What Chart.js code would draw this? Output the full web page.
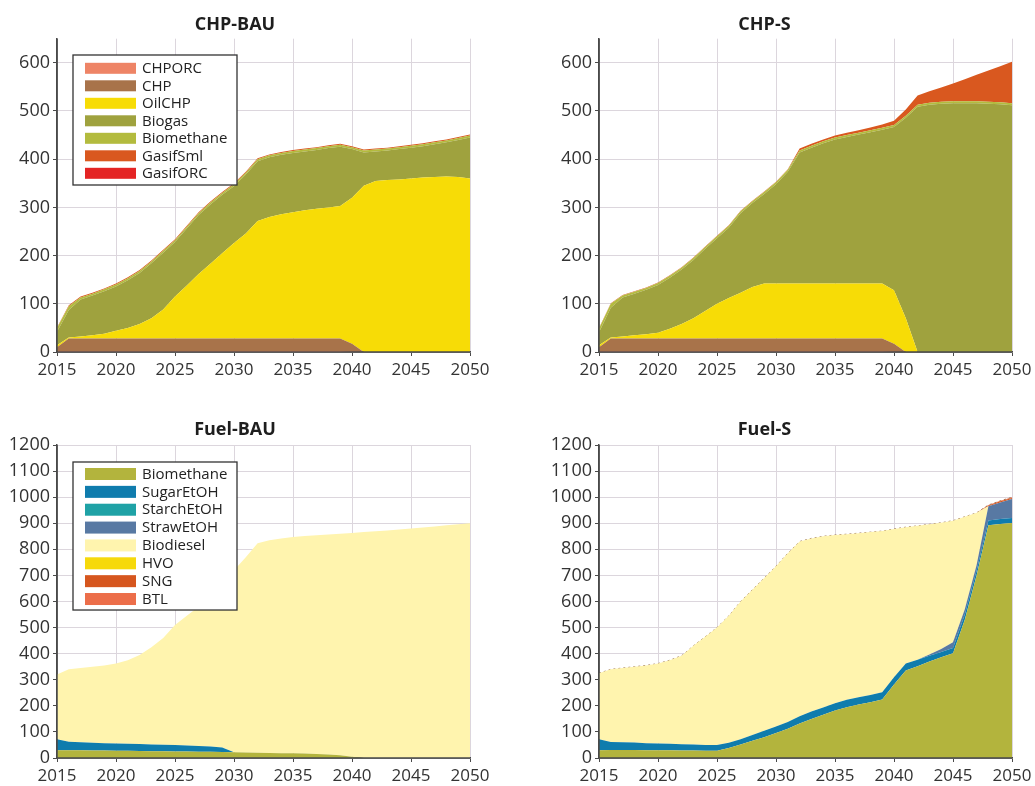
<!DOCTYPE html>
<html>
<head>
<meta charset="utf-8">
<script src="https://cdn.jsdelivr.net/npm/chart.js@4/dist/chart.umd.min.js"></script>
<style>
  html, body { margin: 0; padding: 0; background: #fff; }
  #wrap { position: relative; width: 1035px; height: 786px; overflow: hidden; }
  canvas { position: absolute; display: block; }
</style>
</head>
<body>
<div id="wrap">
  <canvas id="chpBau" width="517" height="390" style="left:0;top:0;width:517px;height:390px"></canvas>
  <canvas id="chpS" width="518" height="390" style="left:517px;top:0;width:518px;height:390px"></canvas>
  <canvas id="fuelBau" width="517" height="396" style="left:0;top:390px;width:517px;height:396px"></canvas>
  <canvas id="fuelS" width="518" height="396" style="left:517px;top:390px;width:518px;height:396px"></canvas>
</div>
<script>
// ---- categories and tick labels ----
const years = [2015, 2016, 2017, 2018, 2019, 2020, 2021, 2022, 2023, 2024,
               2025, 2026, 2027, 2028, 2029, 2030, 2031, 2032, 2033, 2034,
               2035, 2036, 2037, 2038, 2039, 2040, 2041, 2042, 2043, 2044,
               2045, 2046, 2047, 2048, 2049, 2050];
const yearTicks = [2015, 2020, 2025, 2030, 2035, 2040, 2045, 2050];
const chpTicks = [0, 100, 200, 300, 400, 500, 600];
const fuelTicks = [0, 100, 200, 300, 400, 500, 600, 700, 800, 900, 1000, 1100, 1200];

// ---- CHP technologies ----
const chpNames = ['CHPORC', 'CHP', 'OilCHP', 'Biogas', 'Biomethane', 'GasifSml', 'GasifORC'];
const chpColors = ['#ee8466', '#a8734a', '#f7dc06', '#9fa23e', '#b3bb3e', '#d9581f', '#e42424'];

// CHP-BAU
const bauCHPORC     = [2,2,2,2,2, 2,2,2,2,2, 2,2,2,2,2, 2,2,2,2,2, 2,2,2,2,2, 1,0,0,0,0, 0,0,0,0,0, 0];
const bauCHP        = [8,26,26,26,26, 26,26,26,26,26, 26,26,26,26,26, 26,26,26,26,26, 26,26,26,26,26, 16,0,0,0,0, 0,0,0,0,0, 0];
const bauOilCHP     = [4,2,4,7,10, 16,22,30,42,60, 87,110,134,155,177, 198,218,244,252,258, 262,266,269,272,275, 303,345,355,357,358, 360,362,363,364,363, 360];
const bauBiogas     = [28,57,77,82,88, 92,99,106,114,118, 113,118,122,123,121, 118,122,124,124,123, 123,122,122,123,123, 101,69,61,61,63, 64,65,68,71,77, 85];
const bauBiomethane = [8,8,4,4,4, 4,4,4,4,4, 4,4,4,4,4, 4,4,4,4,4, 4,4,4,4,4, 4,4,4,4,4, 4,4,4,4,4, 4];
const bauGasifSml   = [1,2,2,2,2, 2,2,2,2,2, 2,2,2,2,2, 2,2,2,2,2, 2,2,2,2,2, 2,2,2,2,2, 2,2,2,2,2, 2];
const bauGasifORC   = [0,0,0,0,0, 0,0,0,0,0, 0,0,0,0,0, 0,0,0,0,0, 0,0,0,0,0, 0,0,0,0,0, 0,0,0,0,0, 0];

// CHP-S
const sCHPORC     = [2,2,2,2,2, 2,2,2,2,2, 2,2,2,2,2, 2,2,2,2,2, 2,2,2,2,2, 1,0,0,0,0, 0,0,0,0,0, 0];
const sCHP        = [8,26,26,26,26, 26,26,26,26,26, 26,26,26,26,26, 26,26,26,26,26, 26,26,26,26,26, 16,0,0,0,0, 0,0,0,0,0, 0];
const sOilCHP     = [4,2,4,7,9, 12,20,30,42,57, 72,84,95,107,114, 114,114,114,114,114, 114,114,114,114,114, 111,70,0,0,0, 0,0,0,0,0, 0];
const sBiogas     = [27,62,81,86,92, 99,106,113,121,129, 136,146,165,174,186, 206,232,272,282,291, 299,304,309,314,319, 339,416,509,513,515, 516,516,516,515,514, 512];
const sBiomethane = [8,8,4,4,4, 4,4,4,4,4, 4,4,4,4,4, 4,4,4,4,4, 4,4,4,4,4, 4,4,4,4,4, 4,4,4,4,4, 4];
const sGasifSml   = [1,1,1,1,1, 1,1,1,1,1, 1,1,1,1,1, 1,1,4,4,4, 4,5,5,6,7, 9,13,19,24,30, 37,46,55,65,75, 86];
const sGasifORC   = [0,0,0,0,0, 0,0,0,0,0, 0,0,0,0,0, 0,0,0,0,0, 0,0,0,0,0, 0,0,0,0,0, 0,0,0,0,0, 0];

// ---- transport fuels ----
const fuelNames = ['Biomethane', 'SugarEtOH', 'StarchEtOH', 'StrawEtOH', 'Biodiesel', 'HVO', 'SNG', 'BTL'];
const fuelColors = ['#b3b43d', '#0f7cad', '#1fa2a6', '#5879a3', '#fff4ae', '#f6d90b', '#d6561e', '#ec6e4a'];

// Fuel-BAU
const fbBiomethane = [30,30,30,29,29, 28,28,27,26,26, 25,25,24,24,23, 22,21,20,19,18, 18,17,15,13,11, 5,0,0,0,0, 0,0,0,0,0, 0];
const fbSugar      = [42,32,30,29,28, 28,27,27,26,25, 25,23,22,20,17, 0,0,0,0,0, 0,0,0,0,0, 0,0,0,0,0, 0,0,0,0,0, 0];
const fbStarch     = [0,0,0,0,0, 0,0,0,0,0, 0,0,0,0,0, 0,0,0,0,0, 0,0,0,0,0, 0,0,0,0,0, 0,0,0,0,0, 0];
const fbStraw      = [0,0,0,0,0, 0,0,0,0,0, 0,0,0,0,0, 0,0,0,0,0, 0,0,0,0,0, 0,0,0,0,0, 0,0,0,0,0, 0];
const fbBiodiesel  = [248,278,285,292,298, 306,320,341,373,409, 460,497,534,574,620, 698,749,803,816,824, 829,834,839,844,849, 858,866,869,872,876, 880,884,888,892,896, 900];
const fbHVO        = [0,0,0,0,0, 0,0,0,0,0, 0,0,0,0,0, 0,0,0,0,0, 0,0,0,0,0, 0,0,0,0,0, 0,0,0,0,0, 0];
const fbSNG        = [0,0,0,0,0, 0,0,0,0,0, 0,0,0,0,0, 0,0,0,0,0, 0,0,0,0,0, 0,0,0,0,0, 0,0,0,0,0, 0];
const fbBTL        = [0,0,0,0,0, 0,0,0,0,0, 0,0,0,0,0, 0,0,0,0,0, 0,0,0,0,0, 0,0,0,0,0, 0,0,0,0,0, 0];

// Fuel-S
const fsBiomethane = [30,31,31,31,30, 30,30,29,29,28, 28,38,52,66,80, 96,112,132,150,166, 182,195,205,214,224, 282,335,352,370,386, 402,530,700,892,897, 901];
const fsSugar      = [42,30,29,28,27, 26,25,24,23,22, 22,20,20,22,24, 25,26,28,28,28, 28,28,28,28,28, 28,27,25,22,20, 20,20,18,19,19, 19];
const fsStarch     = [0,0,0,0,0, 0,0,0,0,0, 0,0,0,0,0, 0,0,0,0,0, 0,0,0,0,0, 0,0,0,0,0, 0,0,0,0,0, 0];
const fsStraw      = [0,0,0,0,0, 0,0,0,0,0, 0,0,0,0,0, 0,0,0,0,0, 0,0,0,0,0, 0,0,0,5,12, 22,20,22,54,64, 73];
const fsBiodiesel  = [253,279,285,291,298, 306,320,339,378,415, 450,487,528,557,586, 614,647,670,664,656, 645,635,629,624,618, 568,523,513,499,484, 466,355,200,0,0, 0];
const fsHVO        = [0,0,0,0,0, 0,0,0,0,0, 0,0,0,0,0, 0,0,0,0,0, 0,0,0,0,0, 0,0,0,0,0, 0,0,0,0,0, 0];
const fsSNG        = [0,0,0,0,0, 0,0,0,0,0, 0,0,0,0,0, 0,0,0,0,0, 0,0,0,0,0, 0,0,0,0,0, 0,0,0,3,4, 4];
const fsBTL        = [0,0,0,0,0, 0,0,0,0,0, 0,0,0,0,0, 0,0,0,0,0, 0,0,0,0,0, 0,0,0,0,0, 0,0,0,2,2, 3];

// ---- drawing ----
Chart.defaults.font.family = "'Open Sans', 'Noto Sans', sans-serif";
Chart.defaults.color = '#333';
Chart.defaults.animation = false;

const GRID = '#dcd6dd';
const AXIS = '#4a4a4a';

// Boxed legend inside the plot area, plus the left/bottom axis lines drawn over the fills
const boxLegend = {
  id: 'boxLegend',
  afterDatasetsDraw(chart, args, o) {
    const ctx = chart.ctx, a = chart.chartArea;
    ctx.save();
    ctx.strokeStyle = AXIS;
    ctx.lineWidth = 1.5;
    ctx.beginPath();
    ctx.moveTo(a.left, a.top);
    ctx.lineTo(a.left, a.bottom);
    ctx.lineTo(a.right, a.bottom);
    ctx.stroke();
    if (o && o.show) {
      const ds = chart.data.datasets;
      const x0 = a.left + o.dx, y0 = a.top + o.dy;
      const h = o.padTop + (ds.length - 1) * o.row + o.padBottom;
      ctx.fillStyle = '#fff';
      ctx.fillRect(x0, y0, o.w, h);
      ctx.strokeStyle = '#333';
      ctx.lineWidth = 1.3;
      ctx.strokeRect(x0, y0, o.w, h);
      ctx.font = "15px 'Open Sans', 'Noto Sans', sans-serif";
      ctx.textBaseline = 'middle';
      ctx.textAlign = 'left';
      ds.forEach((d, i) => {
        const cy = y0 + o.padTop + i * o.row;
        ctx.fillStyle = d.backgroundColor;
        ctx.fillRect(x0 + 12, cy - o.sw / 2, 51, o.sw);
        ctx.fillStyle = '#222';
        ctx.fillText(d.label, x0 + 69, cy + 0.5);
      });
    }
    ctx.restore();
  }
};

function buildDatasets(series, names, colors, extras) {
  return series.map((vals, i) => Object.assign({
    label: names[i],
    data: vals.map((v, j) => ({ x: years[j], y: v })),
    backgroundColor: colors[i],
    borderColor: colors[i],
    borderWidth: 0,
    pointRadius: 0,
    pointHoverRadius: 0,
    tension: 0,
    fill: i === 0 ? 'origin' : '-1'
  }, (extras && extras[i]) || {}));
}

function makeChart(id, title, datasets, ymax, yTicks, g) {
  return new Chart(document.getElementById(id), {
    type: 'line',
    data: { datasets },
    options: {
      responsive: false,
      animation: false,
      layout: { padding: { left: 0, right: g.padRight, top: 0, bottom: 0 } },
      plugins: {
        legend: { display: false },
        tooltip: { enabled: false },
        title: {
          display: true,
          text: title,
          color: '#1e1e1e',
          font: { size: 18, weight: 'bold' },
          padding: { top: g.titleTop, bottom: g.titleBottom }
        },
        boxLegend: g.legend
      },
      scales: {
        x: {
          type: 'linear',
          min: 2015,
          max: 2050,
          afterBuildTicks: s => { s.ticks = yearTicks.map(v => ({ value: v })); },
          afterFit: s => { s.height = g.xh; s.paddingLeft = 0; s.paddingRight = 0; },
          ticks: { font: { size: 17 }, color: '#333', padding: 4, maxRotation: 0, callback: v => String(v) },
          grid: { color: GRID, lineWidth: 1, tickColor: AXIS, tickLength: 4 },
          border: { color: AXIS, width: 1.5 }
        },
        y: {
          type: 'linear',
          stacked: true,
          min: 0,
          max: ymax,
          afterBuildTicks: s => { s.ticks = yTicks.map(v => ({ value: v })); },
          afterFit: s => { s.width = g.yw; s.paddingTop = 0; s.paddingBottom = 0; },
          ticks: { font: { size: 18 }, color: '#333', padding: 3, callback: v => String(v) },
          grid: { color: GRID, lineWidth: 1, tickColor: AXIS, tickLength: 4 },
          border: { color: AXIS, width: 1.5 }
        }
      }
    },
    plugins: [boxLegend]
  });
}

const topLeft  = { padRight: 47, yw: 57, xh: 38, titleTop: 14.2, titleBottom: 2.9 };
const topRight = { padRight: 23, yw: 82, xh: 38, titleTop: 14.2, titleBottom: 2.9 };
const botLeft  = { padRight: 47, yw: 57, xh: 28, titleTop: 29.2, titleBottom: 4.2 };
const botRight = { padRight: 23, yw: 82, xh: 28, titleTop: 29.2, titleBottom: 4.2 };

makeChart('chpBau', 'CHP-BAU',
  buildDatasets([bauCHPORC, bauCHP, bauOilCHP, bauBiogas, bauBiomethane, bauGasifSml, bauGasifORC], chpNames, chpColors),
  650, chpTicks,
  Object.assign({ legend: { show: true, dx: 16, dy: 16.3, w: 164, row: 17.5, padTop: 13.3, padBottom: 11.7, sw: 11 } }, topLeft));

makeChart('chpS', 'CHP-S',
  buildDatasets([sCHPORC, sCHP, sOilCHP, sBiogas, sBiomethane, sGasifSml, sGasifORC], chpNames, chpColors),
  650, chpTicks,
  Object.assign({ legend: { show: false } }, topRight));

makeChart('fuelBau', 'Fuel-BAU',
  buildDatasets([fbBiomethane, fbSugar, fbStarch, fbStraw, fbBiodiesel, fbHVO, fbSNG, fbBTL], fuelNames, fuelColors),
  1200, fuelTicks,
  Object.assign({ legend: { show: true, dx: 16, dy: 17, w: 164, row: 17.86, padTop: 12, padBottom: 11, sw: 12 } }, botLeft));

// the outline of the topmost layer traces the total as a fine dotted edge
const fuelSEdge = { 7: { borderWidth: 1, borderColor: '#a07a5c', borderDash: [2, 3] } };
makeChart('fuelS', 'Fuel-S',
  buildDatasets([fsBiomethane, fsSugar, fsStarch, fsStraw, fsBiodiesel, fsHVO, fsSNG, fsBTL], fuelNames, fuelColors, fuelSEdge),
  1200, fuelTicks,
  Object.assign({ legend: { show: false } }, botRight));
</script>
</body>
</html>
